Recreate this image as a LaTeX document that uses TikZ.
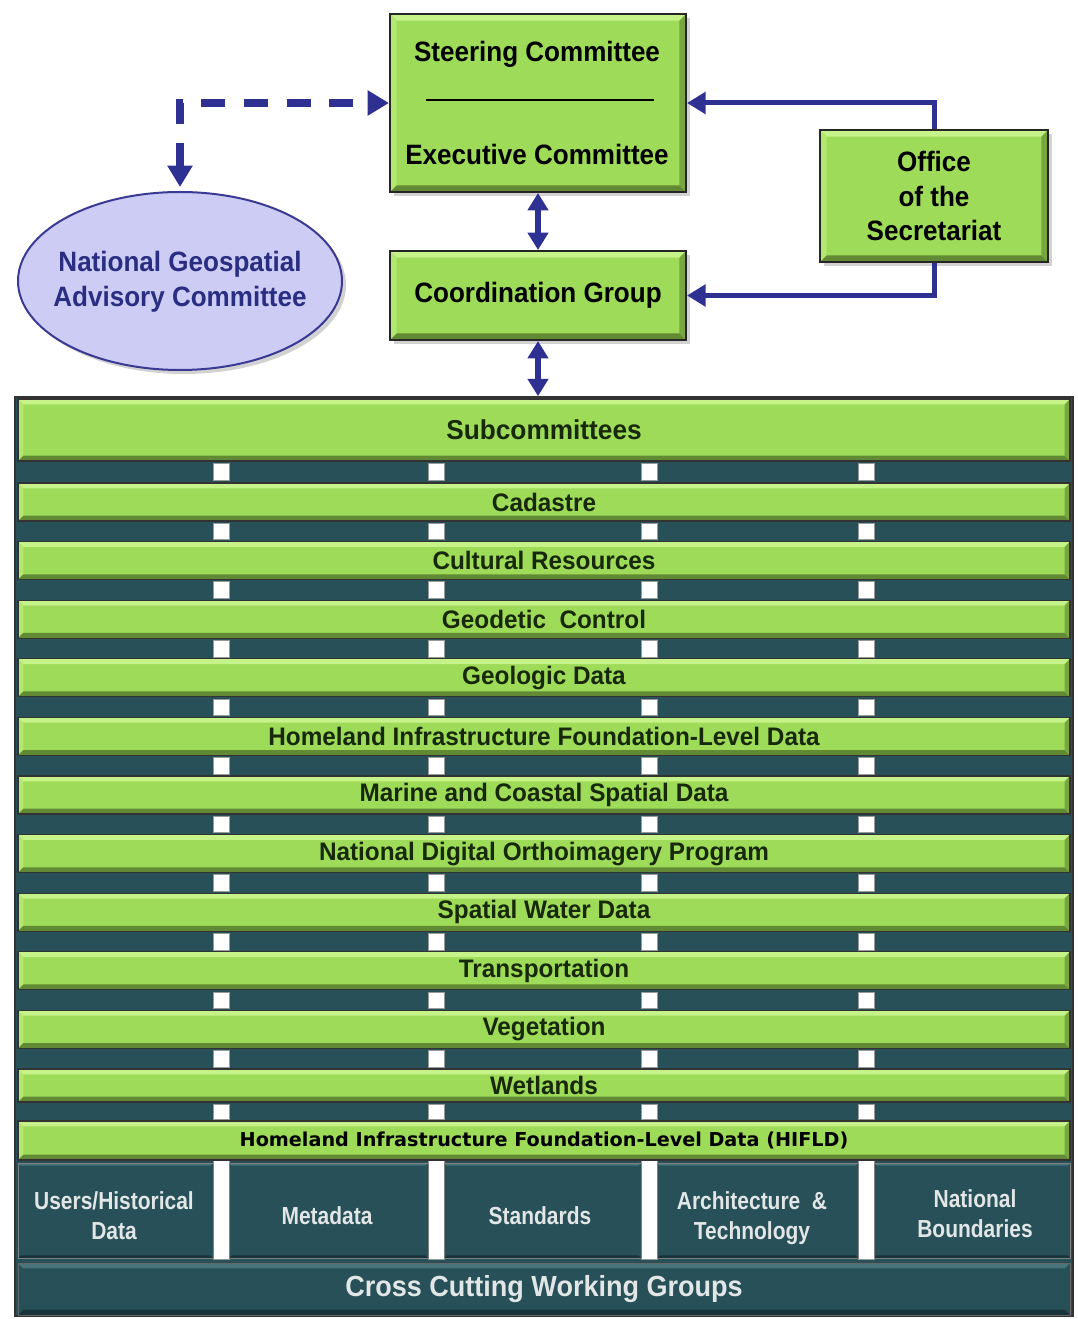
\documentclass[tikz,border=0pt]{standalone}
\usepackage{fontspec}
\setmainfont{Liberation Sans}
\newfontfamily\boxfont{Liberation Sans}[FakeStretch=0.93]
\newfontfamily\bandfont{Liberation Sans}[FakeStretch=0.96]
\newfontfamily\wgfont{Liberation Sans}[FakeStretch=0.85]
\newfontfamily\vfont{DejaVu Sans}
\usetikzlibrary{arrows.meta,shapes.geometric,shadows,calc}
\definecolor{grn}{RGB}{158,219,88}
\definecolor{grnhi}{RGB}{198,242,138}
\definecolor{grnlt}{RGB}{178,232,112}
\definecolor{grndk}{RGB}{98,138,52}
\definecolor{grnmd}{RGB}{122,166,66}
\definecolor{tealbg}{RGB}{39,80,88}
\definecolor{tealhi}{RGB}{72,116,122}
\definecolor{tealdk}{RGB}{24,52,58}
\definecolor{bluearr}{RGB}{46,49,146}
\definecolor{lav}{RGB}{204,204,245}
\definecolor{lavdk}{RGB}{58,58,148}
\definecolor{ngactxt}{RGB}{42,46,130}
\definecolor{txtgrn}{RGB}{24,40,10}
\definecolor{wgtxt}{RGB}{226,230,230}
\tikzset{
  gbev/.style={path picture={
    \fill[grnhi] (path picture bounding box.north west) -- (path picture bounding box.north east)
      -- ([shift={(-#1,-#1)}]path picture bounding box.north east) -- ([shift={(#1,-#1)}]path picture bounding box.north west) -- cycle;
    \fill[grnlt] (path picture bounding box.north west) -- ([shift={(#1,-#1)}]path picture bounding box.north west)
      -- ([shift={(#1,#1)}]path picture bounding box.south west) -- (path picture bounding box.south west) -- cycle;
    \fill[grndk] (path picture bounding box.south west) -- (path picture bounding box.south east)
      -- ([shift={(-#1,#1)}]path picture bounding box.south east) -- ([shift={(#1,#1)}]path picture bounding box.south west) -- cycle;
    \fill[grnmd] (path picture bounding box.north east) -- ([shift={(-#1,-#1)}]path picture bounding box.north east)
      -- ([shift={(-#1,#1)}]path picture bounding box.south east) -- (path picture bounding box.south east) -- cycle;
  }},
  tbev/.style={path picture={
    \fill[tealhi] (path picture bounding box.north west) -- (path picture bounding box.north east)
      -- ([shift={(-#1,-#1)}]path picture bounding box.north east) -- ([shift={(#1,-#1)}]path picture bounding box.north west) -- cycle;
    \fill[tealdk] (path picture bounding box.south west) -- (path picture bounding box.south east)
      -- ([shift={(-#1,#1)}]path picture bounding box.south east) -- ([shift={(#1,#1)}]path picture bounding box.south west) -- cycle;
  }},
  greenbox/.style={draw=black!85, line width=1.5pt, fill=grn, gbev=5pt,
    drop shadow={shadow xshift=3pt,shadow yshift=-3pt,opacity=0.35},
    inner sep=0pt, align=center, font=\boxfont\bfseries\fontsize{21}{26}\selectfont},
  boxtext/.style={inner sep=0pt, font=\boxfont\bfseries\fontsize{21}{26}\selectfont},
  band/.style={draw=black!80, line width=0.8pt, fill=grn, gbev=4pt,
    minimum width=789pt, minimum height=28.5pt, inner sep=0pt, text=txtgrn,
    font=\bandfont\bfseries\fontsize{19}{20}\selectfont},
  sqr/.style={fill=white, draw=black!40, line width=0.3pt},
  wgcell/.style={fill=tealbg, draw=black!50, line width=0.5pt, minimum height=71.25pt, inner sep=0pt, tbev=2pt},
  wgtext/.style={inner sep=0pt, align=center, text=wgtxt, font=\wgfont\bfseries\fontsize{18.5}{22.5}\selectfont},
  solarr/.style={draw=bluearr, line width=3.75pt, -{Triangle[length=14pt,width=16pt]}},
  dblarr/.style={draw=bluearr, line width=4pt, {Triangle[length=13pt,width=15pt]}-{Triangle[length=13pt,width=15pt]}},
  dasharr/.style={draw=bluearr, line width=5.5pt, dash pattern=on 18pt off 14pt,
    {Triangle[length=16pt,width=18pt]}-{Triangle[length=16pt,width=18pt]}},
}
\begin{document}
\begin{tikzpicture}[x=0.75pt,y=-0.75pt]
\useasboundingbox (0,0) rectangle (1077,1319);
\fill[white] (0,0) rectangle (1077,1319);

% ---- frame of subcommittees ----
\node[draw=black!80, line width=1.2pt, fill=tealbg, minimum width=793.5pt, minimum height=689.25pt, inner sep=0pt] (frame) at (544,856.5) {};

% white squares in gaps
\foreach \sx in {213,428,641,858}{
  \fill[sqr] (\sx,463) rectangle ++(16,17);
  \foreach \i in {0,...,9}{
    \fill[sqr] (\sx,{523+58.6*\i}) rectangle ++(16,16.6);
  }
  \fill[sqr] (\sx,1104) rectangle ++(16,15);
  \fill[sqr] (\sx,1160) rectangle ++(16,99);
}

% bands
\node[band, minimum height=46.5pt, font=\bandfont\bfseries\fontsize{20.5}{22}\selectfont] (subc) at (544,430) {Subcommittees};
\foreach \lbl [count=\i from 0] in {Cadastre, Cultural Resources, Geodetic\ \ Control, Geologic Data,
   Homeland Infrastructure Foundation-Level Data, Marine and Coastal Spatial Data,
   National Digital Orthoimagery Program, Spatial Water Data, Transportation, Vegetation}{
  \node[band] (band\i) at (544,{502+58.6*\i}) {\lbl};
}
\node[band, minimum height=24.75pt] (wet) at (544,1085.5) {Wetlands};
\node[band, minimum height=29.25pt, text=black, font=\vfont\bfseries\fontsize{14.4}{16}\selectfont] (hifld) at (544,1140.5) {Homeland Infrastructure Foundation-Level Data (HIFLD)};

% cross cutting working groups
\node[wgcell, minimum width=146.25pt] (c1) at (115.5,1210.5) {};
\node[wgcell, minimum width=149.25pt] (c2) at (328.5,1210.5) {};
\node[wgcell, minimum width=147.75pt] (c3) at (542.5,1210.5) {};
\node[wgcell, minimum width=150.75pt] (c4) at (757.5,1210.5) {};
\node[wgcell, minimum width=147pt] (c5) at (972,1210.5) {};
\node[wgtext] (t1) at (114,1216) {Users/Historical\\Data};
\node[wgtext] (t2) at (327,1216) {Metadata};
\node[wgtext] (t3) at (540,1216) {Standards};
\node[wgtext] (t4) at (752,1218) {Architecture\ \ \&\\Technology};
\node[wgtext] (t5) at (975,1214) {National\\Boundaries};
\node[fill=tealbg, draw=black!60, line width=0.6pt, tbev=4pt, minimum width=789pt, minimum height=39pt, inner sep=0pt,
  text=wgtxt, font=\boxfont\bfseries\fontsize{21.8}{26}\selectfont] (cross) at (544,1289) {Cross Cutting Working Groups};

% ---- top boxes ----
\node[greenbox, minimum width=222pt, minimum height=133.5pt] (steer) at (538,103) {};
\node[boxtext] (steertxt) at (537,54) {Steering Committee};
\node[boxtext] (exectxt) at (537,154) {Executive Committee};
\draw[line width=1.6pt] ($(steer.north west)+(37,87)$) -- ($(steer.north east)+(-33,87)$);
\node[greenbox, minimum width=222pt, minimum height=66.75pt] (coord) at (538,295.5) {Coordination Group};
\node[greenbox, minimum width=171pt, minimum height=99pt] (office) at (934,196) {Office\\of the\\Secretariat};

\node[ellipse, draw=lavdk, line width=1.5pt, fill=lav, minimum width=243pt, minimum height=133.5pt,
  drop shadow={shadow xshift=3pt,shadow yshift=-3pt,opacity=0.35}] (ngac) at (180,281) {};
\node[boxtext, align=center, text=ngactxt] (ngactxt) at (180,282) {National Geospatial\\Advisory Committee};

% ---- connectors ----
\draw[dasharr, shorten <=3pt] (ngac.north) |- (steer.west);
\draw[solarr] (office.north) |- (steer.east);
\draw[solarr] (office.south) |- (coord.east);
\draw[dblarr] (steer.south) -- (coord.north);
\draw[dblarr] (coord.south) -- (coord.south |- frame.north);
\end{tikzpicture}
\end{document}
